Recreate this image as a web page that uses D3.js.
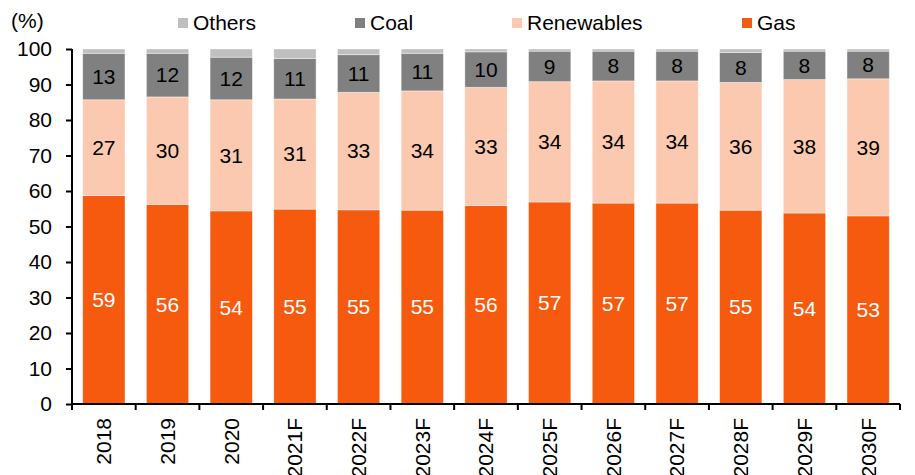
<!DOCTYPE html>
<html>
<head>
<meta charset="utf-8">
<script src="https://cdn.jsdelivr.net/npm/d3@7"></script>
<style>
  body { margin: 0; background: #fff; }
  svg { font-family: "Liberation Sans", Arial, sans-serif; }
</style>
</head>
<body>
<svg id="chart"></svg>
<script>
const width = 915;
const height = 475;

const years = ['2018', '2019', '2020', '2021F', '2022F', '2023F', '2024F',
  '2025F', '2026F', '2027F', '2028F', '2029F', '2030F'];
const gas        = [58.7, 56.2, 54.4, 54.9, 54.7, 54.6, 55.9, 56.9, 56.6, 56.6, 54.6, 53.8, 53.0];
const renewables = [27.0, 30.3, 31.3, 31.0, 33.1, 33.6, 33.3, 33.9, 34.4, 34.4, 36.0, 37.6, 38.6];
const coal       = [13.1, 12.3, 12.0, 11.4, 10.6, 10.6, 10.0, 8.6, 8.4, 8.4, 8.4, 8.0, 7.8];
const others     = [1.2, 1.2, 2.3, 2.7, 1.6, 1.2, 0.8, 0.6, 0.6, 0.6, 1.0, 0.6, 0.6];
const yTicks = [0, 10, 20, 30, 40, 50, 60, 70, 80, 90, 100];

const series = [
  { key: 'Gas', values: gas, color: '#F55A0E', text: '#fff', label: true },
  { key: 'Renewables', values: renewables, color: '#FBC9AF', text: '#000', label: true },
  { key: 'Coal', values: coal, color: '#808080', text: '#000', label: true },
  { key: 'Others', values: others, color: '#BFBFBF', text: '#000', label: false }
];

const legend = [
  { key: 'Others', x: 178 },
  { key: 'Coal', x: 355 },
  { key: 'Renewables', x: 512 },
  { key: 'Gas', x: 742 }
];

const fontSize = '21px';
const margin = { top: 49, right: 15, bottom: 71, left: 72 };

const svg = d3.select('#chart')
    .attr('width', width).attr('height', height);

const x = d3.scaleBand()
    .domain(years)
    .range([margin.left, width - margin.right])
    .paddingInner(0.336)
    .paddingOuter(0.168);

const y = d3.scaleLinear()
    .domain([0, 100])
    .range([height - margin.bottom, margin.top]);

// stack the data
const rows = years.map((yr, i) => {
  const r = { year: yr };
  series.forEach(s => { r[s.key] = s.values[i]; });
  return r;
});
const stacked = d3.stack().keys(series.map(s => s.key))(rows);

stacked.forEach((layer, li) => {
  const s = series[li];
  const g = svg.append('g');
  g.selectAll('rect')
      .data(layer)
      .enter().append('rect')
      .attr('x', d => x(d.data.year))
      .attr('width', x.bandwidth())
      .attr('y', d => y(d[1]))
      .attr('height', d => y(d[0]) - y(d[1]))
      .style('fill', s.color)
      .style('stroke', '#fff')
      .style('stroke-opacity', 0.5)
      .style('stroke-width', 0.8);

  if (s.label) {
    g.selectAll('text')
        .data(layer)
        .enter().append('text')
        .attr('x', d => x(d.data.year) + x.bandwidth() / 2)
        .attr('y', d => (y(d[0]) + y(d[1])) / 2)
        .attr('dy', '0.35em')
        .attr('text-anchor', 'middle')
        .style('font-size', fontSize)
        .style('fill', s.text)
        .text(d => Math.round(d[1] - d[0]));
  }
});

// y axis
const yAxis = svg.append('g')
    .attr('transform', `translate(${margin.left},0)`)
    .call(d3.axisLeft(y).tickValues(yTicks).tickSize(6).tickSizeOuter(0).tickPadding(14));
yAxis.select('.domain').attr('stroke', '#000').attr('stroke-width', 2)
    .attr('d', `M0,${y(100)}V${y(0)}`);
yAxis.selectAll('.tick line').attr('stroke', '#000').attr('stroke-width', 2);
yAxis.selectAll('.tick text')
    .style('font-size', fontSize)
    .style('font-family', '"Liberation Sans", Arial, sans-serif')
    .style('fill', '#000');

// x axis
const xAxis = svg.append('g')
    .attr('transform', `translate(0,${y(0)})`)
    .call(d3.axisBottom(x).tickSize(0).tickSizeOuter(0));
xAxis.select('.domain').attr('stroke', '#000').attr('stroke-width', 2)
    .attr('d', `M${margin.left},0H${width - margin.right}`);
xAxis.selectAll('.tick text')
    .attr('transform', 'rotate(-90)')
    .attr('x', -14)
    .attr('y', 0)
    .attr('dy', '0.35em')
    .attr('text-anchor', 'end')
    .style('font-size', fontSize)
    .style('font-family', '"Liberation Sans", Arial, sans-serif')
    .style('fill', '#000');

// tick marks between categories
const bounds = years.map(yr => x(yr) - x.step() * x.paddingInner() / 2);
bounds.push(width - margin.right);
svg.append('g').selectAll('line')
    .data(bounds)
    .enter().append('line')
    .attr('x1', d => d).attr('x2', d => d)
    .attr('y1', y(0)).attr('y2', y(0) + 6)
    .attr('stroke', '#000').attr('stroke-width', 2);

// unit label
svg.append('text')
    .attr('x', 11).attr('y', 21)
    .attr('dy', '0.35em')
    .style('font-size', fontSize)
    .text('(%)');

// legend
const lg = svg.append('g');
legend.forEach(l => {
  const s = series.find(d => d.key === l.key);
  lg.append('rect')
      .attr('x', l.x).attr('y', 18)
      .attr('width', 10).attr('height', 10)
      .style('fill', s.color);
  lg.append('text')
      .attr('x', l.x + 15).attr('y', 23)
      .attr('dy', '0.35em')
      .style('font-size', fontSize)
      .text(l.key);
});
</script>
</body>
</html>
